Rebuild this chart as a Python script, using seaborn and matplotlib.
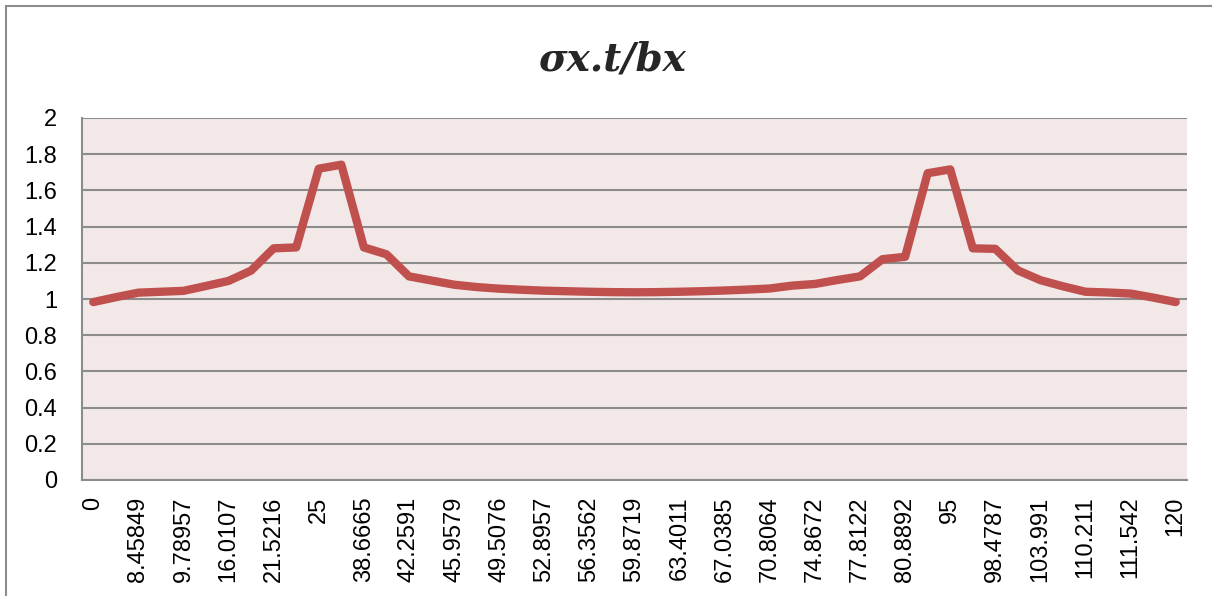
import numpy as np
import pandas as pd
import matplotlib
matplotlib.use("Agg")
import matplotlib.pyplot as plt
from matplotlib.patches import Rectangle
import seaborn as sns

# Stress ratio along the member (one value per station)
values = [
    0.983, 1.010, 1.035, 1.040, 1.045, 1.072, 1.100, 1.157, 1.280, 1.285,
    1.720, 1.742, 1.285, 1.247, 1.125, 1.102, 1.079, 1.066, 1.057, 1.051,
    1.046, 1.043, 1.040, 1.038, 1.037, 1.038, 1.040, 1.043, 1.047, 1.052,
    1.058, 1.074, 1.083, 1.105, 1.125, 1.220, 1.233, 1.695, 1.716, 1.280,
    1.277, 1.158, 1.104, 1.070, 1.040, 1.036, 1.030, 1.008, 0.983,
]

# Station labels shown on the category axis (every second station)
tick_labels = [
    "0", "8.45849", "9.78957", "16.0107", "21.5216", "25", "38.6665",
    "42.2591", "45.9579", "49.5076", "52.8957", "56.3562", "59.8719",
    "63.4011", "67.0385", "70.8064", "74.8672", "77.8122", "80.8892",
    "95", "98.4787", "103.991", "110.211", "111.542", "120",
]

y_ticks = [0, 0.2, 0.4, 0.6, 0.8, 1, 1.2, 1.4, 1.6, 1.8, 2]
y_tick_labels = ["0", "0.2", "0.4", "0.6", "0.8", "1", "1.2", "1.4", "1.6", "1.8", "2"]

title = "σx.t/bx"

df = pd.DataFrame({"station": np.arange(len(values)), "ratio": values})

sns.set_theme(style="white")
plt.rcParams["font.family"] = ["Liberation Sans", "DejaVu Sans"]

fig = plt.figure(figsize=(12.12, 5.96), dpi=100)
fig.patch.set_facecolor("white")
ax = fig.add_axes([82 / 1212, 1 - 480 / 596, (1187 - 82) / 1212, (480 - 118) / 596])
ax.set_facecolor("#F2E8E8")

grid_color = "#8C8C8C"
for yv in y_ticks:
    ax.axhline(yv, color=grid_color, lw=1.5, zorder=1)

sns.lineplot(data=df, x="station", y="ratio", ax=ax, color="#C0504D",
             linewidth=6.0, solid_joinstyle="round", solid_capstyle="round",
             zorder=3, legend=False)

ax.set_xlim(-0.5, len(values) - 0.5)
ax.set_ylim(0, 2)
ax.set_xticks(np.arange(0, len(values), 2))
ax.set_xticklabels(tick_labels, rotation=90, fontsize=17, color="black")
ax.set_yticks(y_ticks)
ax.set_yticklabels(y_tick_labels, fontsize=17, color="black")
ax.tick_params(axis="x", length=0, pad=12)
ax.tick_params(axis="y", length=0, pad=18)
ax.set_xlabel("")
ax.set_ylabel("")
for side in ["top", "right"]:
    ax.spines[side].set_visible(False)
for side in ["left", "bottom"]:
    ax.spines[side].set_color(grid_color)
    ax.spines[side].set_linewidth(1.5)

fig.text(0.505, 1 - 60 / 596, title, ha="center", va="center",
         fontsize=28, fontstyle="italic", fontweight="bold",
         family=["DejaVu Serif"])

# Chart frame
fig.patches.append(Rectangle((6 / 1212, -0.1), 1.2, 1 - 6 / 596 + 0.1,
                             transform=fig.transFigure, fill=False,
                             edgecolor="#8C8C8C", lw=1.5))

fig.savefig("out.png", dpi=100)
